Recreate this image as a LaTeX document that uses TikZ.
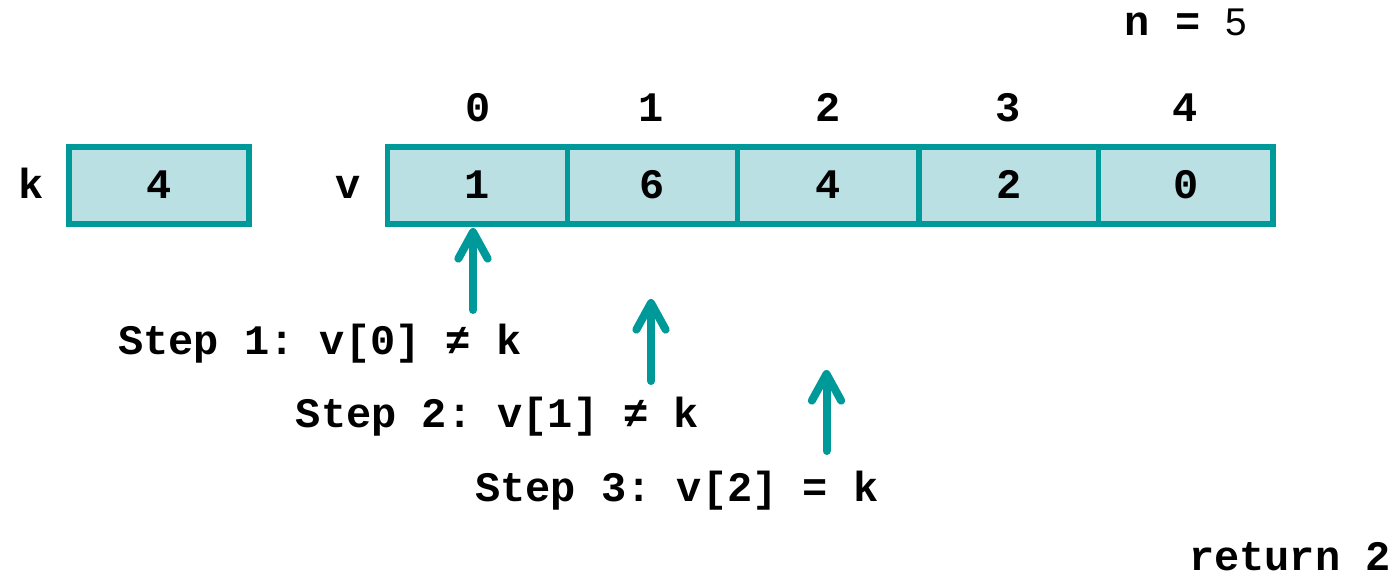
\documentclass[tikz,border=0pt]{standalone}
\usepackage{fontspec}
\setmonofont{Liberation Mono}
\newfontfamily\arialfont{Liberation Sans}
\usetikzlibrary{arrows.meta}
\definecolor{teal1}{RGB}{0,153,153}
\definecolor{cellfill}{RGB}{187,224,227}
\tikzset{
  cellbox/.style={draw=teal1, fill=cellfill, line width=4.1pt, inner sep=0pt, minimum height=57.75pt},
  txt/.style={font=\fontsize{31.5}{36}\selectfont\ttfamily\bfseries, inner sep=0pt, anchor=base},
  pointer/.style={draw=teal1, line width=6pt, line cap=round,
     -{Straight Barb[length=20pt,width=22pt,line cap=round,line join=round]}}
}
\begin{document}
\begin{tikzpicture}[x=0.75pt,y=-0.75pt]
\useasboundingbox (0,0) rectangle (1397,580);
% k box
\node[cellbox, minimum width=135pt] (kbox) at (159,185.5) {};
\node[txt] (kval) at (159,199) {4};
\node[txt] (klab) at (31,199) {k};
% v array
\node[cellbox, minimum width=135pt]   (c0) at (477.5,185.5) {};
\node[cellbox, minimum width=127.5pt] (c1) at (652.5,185.5) {};
\node[cellbox, minimum width=136.1pt] (c2) at (828.25,185.5) {};
\node[cellbox, minimum width=134.6pt] (c3) at (1008.75,185.5) {};
\node[cellbox, minimum width=130.9pt] (c4) at (1185.75,185.5) {};
\node[txt] (vlab) at (348,199) {v};
\node[txt] (v0) at (477.5,199) {1};
\node[txt] (v1) at (652.5,199) {6};
\node[txt] (v2) at (828.25,199) {4};
\node[txt] (v3) at (1008.75,199) {2};
\node[txt] (v4) at (1185.75,199) {0};
% indices
\node[txt] (i0) at (478,122) {0};
\node[txt] (i1) at (651,122) {1};
\node[txt] (i2) at (828,122) {2};
\node[txt] (i3) at (1008,122) {3};
\node[txt] (i4) at (1185,122) {4};
% n = 5
\node[txt] (nlab) at (1186,36) {n = {\arialfont\mdseries\fontsize{29}{32}\selectfont 5}};
% steps
\node[txt] (s1) at (320,355) {Step 1: v[0] ≠ k};
\node[txt] (s2) at (497.5,428) {Step 2: v[1] ≠ k};
\node[txt] (s3) at (677,502) {Step 3: v[2] = k};
\node[txt] (ret) at (1290,571) {return 2};
% arrows
\coordinate (a1b) at (473,310);
\coordinate (a1t) at (473,228);
\coordinate (a2b) at (651,381);
\coordinate (a2t) at (651,299);
\coordinate (a3b) at (826.5,451);
\coordinate (a3t) at (826.5,370);
\draw[pointer] (a1b) -- (a1t);
\draw[pointer] (a2b) -- (a2t);
\draw[pointer] (a3b) -- (a3t);
\end{tikzpicture}
\end{document}
